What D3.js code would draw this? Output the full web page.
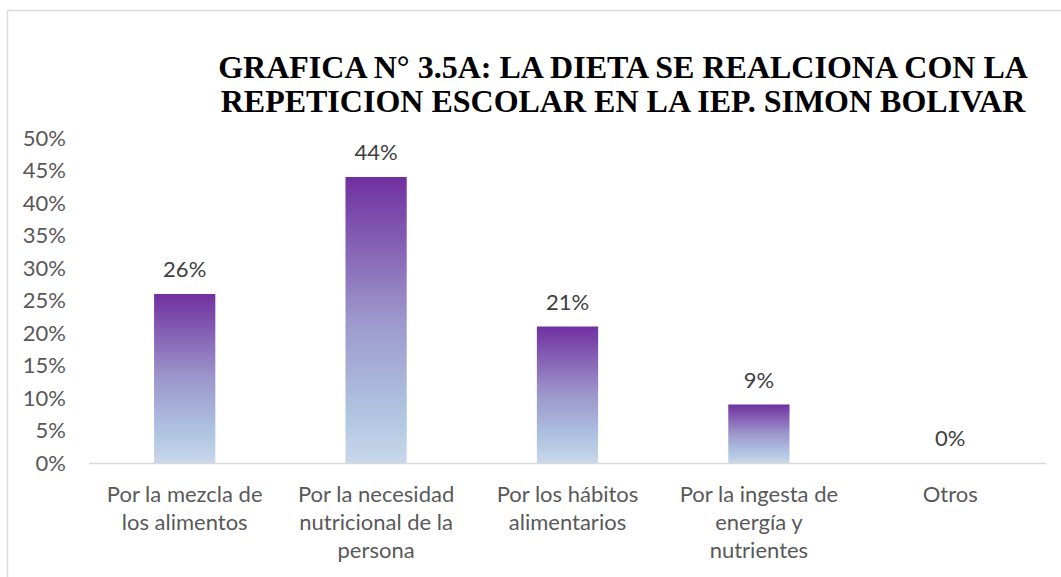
<!DOCTYPE html>
<html>
<head>
<meta charset="utf-8">
<script src="https://d3js.org/d3.v7.min.js"></script>
<style>
  body { margin: 0; background: #fff; }
  svg { display: block; }
</style>
</head>
<body>
<script>
// chart data
var categories = [
  ["Por la mezcla de", "los alimentos"],
  ["Por la necesidad", "nutricional de la", "persona"],
  ["Por los hábitos", "alimentarios"],
  ["Por la ingesta de", "energía y", "nutrientes"],
  ["Otros"]
];
var values = [26, 44, 21, 9, 0];
var yTicks = [0, 5, 10, 15, 20, 25, 30, 35, 40, 45, 50];
var titleLines = [
  "GRAFICA N° 3.5A: LA DIETA SE REALCIONA CON LA",
  "REPETICION ESCOLAR EN LA IEP. SIMON BOLIVAR"
];

var W = 1061, H = 577;
var plotLeft = 89, plotRight = 1046, plotTop = 138, plotBottom = 463;
var labelFont = "Lato, 'Open Sans', sans-serif";

var svg = d3.select("body").append("svg")
  .attr("width", W).attr("height", H);

// gradient fill for the bars
var grad = svg.append("defs").append("linearGradient")
  .attr("id", "barGrad")
  .attr("x1", 0).attr("y1", 0).attr("x2", 0).attr("y2", 1);
[[0, "#7030a0"], [0.5, "#9d97cc"], [0.82, "#afc4e1"], [1, "#c9d7ea"]].forEach(function(s) {
  grad.append("stop").attr("offset", s[0]).attr("stop-color", s[1]);
});

// chart area border
svg.append("rect")
  .attr("x", 7.5).attr("y", 10.5)
  .attr("width", W + 10).attr("height", H + 10)
  .attr("fill", "none").attr("stroke", "#d9d9d9").attr("stroke-width", 1.5);

var idx = d3.range(values.length);
var x = d3.scaleBand().domain(idx).range([plotLeft, plotRight]).paddingInner(0.68).paddingOuter(0.34);
var y = d3.scaleLinear().domain([0, 50]).range([plotBottom, plotTop]);

// y axis labels
var yAxis = svg.append("g")
  .attr("transform", "translate(" + (plotLeft - 20) + ",0)")
  .call(d3.axisLeft(y).tickValues(yTicks).tickSize(0).tickFormat(function(d) { return d + "%"; }));
yAxis.select(".domain").remove();
yAxis.selectAll("text")
  .attr("font-family", labelFont)
  .attr("font-size", 22)
  .attr("fill", "#595959");

// bars
svg.selectAll("rect.bar").data(values).enter().append("rect")
  .attr("class", "bar")
  .attr("x", function(d, i) { return x(i); })
  .attr("width", x.bandwidth())
  .attr("y", function(d) { return y(d); })
  .attr("height", function(d) { return y(0) - y(d); })
  .attr("fill", "url(#barGrad)");

// baseline
svg.append("line")
  .attr("x1", plotLeft).attr("x2", plotRight)
  .attr("y1", y(0) + 0.5).attr("y2", y(0) + 0.5)
  .attr("stroke", "#d9d9d9").attr("stroke-width", 1.5);

// value labels
svg.selectAll("text.val").data(values).enter().append("text")
  .attr("class", "val")
  .attr("x", function(d, i) { return x(i) + x.bandwidth() / 2; })
  .attr("y", function(d) { return y(d) - 17; })
  .attr("text-anchor", "middle")
  .attr("font-family", labelFont)
  .attr("font-size", 22)
  .attr("fill", "#404040")
  .text(function(d) { return d + "%"; });

// category labels
categories.forEach(function(lines, i) {
  var t = svg.append("text")
    .attr("text-anchor", "middle")
    .attr("font-family", labelFont)
    .attr("font-size", 22)
    .attr("fill", "#595959");
  lines.forEach(function(l, j) {
    t.append("tspan")
      .attr("x", x(i) + x.bandwidth() / 2)
      .attr("y", 502 + j * 28)
      .text(l);
  });
});

// title
svg.append("text")
  .attr("text-anchor", "middle")
  .attr("font-family", "'Liberation Serif', 'Times New Roman', serif")
  .attr("font-weight", "bold")
  .attr("font-size", 32)
  .attr("fill", "#000")
  .selectAll("tspan").data(titleLines).enter().append("tspan")
  .attr("x", 623)
  .attr("y", function(d, i) { return 78 + i * 34; })
  .text(function(d) { return d; });
</script>
</body>
</html>
